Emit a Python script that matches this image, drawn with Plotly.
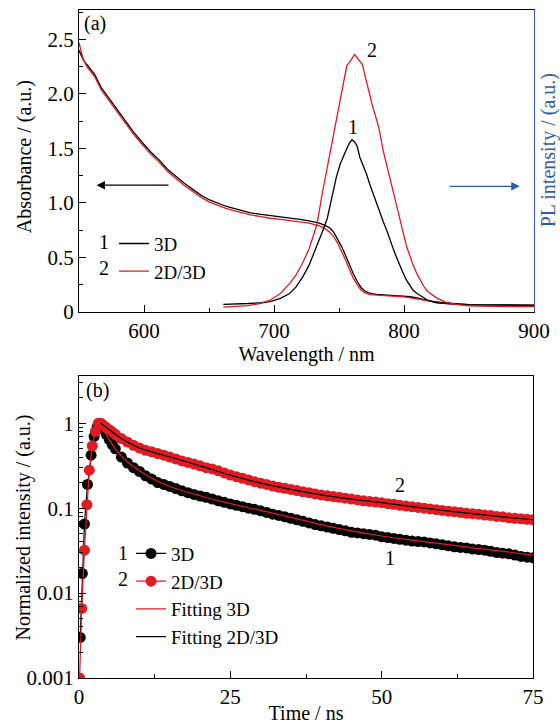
import plotly.graph_objects as go

# ---------------- Panel (a) data ----------------
abs_wl = [550, 553, 556, 559, 562, 567, 573, 580, 586, 592, 599, 605, 612, 618, 625, 631, 638, 644, 650,
          656, 663, 669, 676, 682, 690, 697, 705, 712, 720, 727, 735, 740, 743, 746, 749, 752, 755, 758,
          761, 764, 767, 770, 774, 779, 785, 790, 795, 800, 805, 810, 815, 820, 830, 840, 850, 860, 870,
          880, 890, 900]
abs_3d = [2.40, 2.32, 2.27, 2.22, 2.18, 2.06, 1.96, 1.85, 1.75, 1.65, 1.55, 1.47, 1.39, 1.31, 1.24, 1.18,
          1.12, 1.07, 1.03, 1.00, 0.97, 0.95, 0.93, 0.91, 0.895, 0.885, 0.87, 0.86, 0.85, 0.835, 0.815,
          0.79, 0.77, 0.73, 0.67, 0.60, 0.52, 0.43, 0.35, 0.28, 0.225, 0.19, 0.17, 0.162, 0.158, 0.155,
          0.152, 0.148, 0.14, 0.13, 0.115, 0.10, 0.085, 0.075, 0.068, 0.064, 0.062, 0.061, 0.06, 0.06]
abs_2d3d = [2.47, 2.33, 2.25, 2.20, 2.16, 2.04, 1.94, 1.83, 1.73, 1.63, 1.53, 1.45, 1.37, 1.29, 1.22, 1.16,
            1.10, 1.05, 1.01, 0.98, 0.95, 0.93, 0.91, 0.89, 0.875, 0.86, 0.85, 0.84, 0.83, 0.815, 0.79,
            0.76, 0.73, 0.69, 0.63, 0.56, 0.48, 0.39, 0.31, 0.25, 0.20, 0.175, 0.16, 0.155, 0.152, 0.148,
            0.143, 0.138, 0.13, 0.12, 0.108, 0.095, 0.08, 0.07, 0.063, 0.058, 0.055, 0.054, 0.053, 0.053]

pl_wl = [661, 670, 680, 690, 697, 705, 712, 717, 722, 727, 733, 737, 741, 745, 748, 751, 753, 756, 758,
         760, 762, 764, 766, 768, 771, 774, 776, 779, 781, 784, 787, 790, 792, 795, 797, 800, 802, 805,
         807, 810, 815, 818, 825, 832, 840, 850, 860, 870, 880, 890, 900]
pl_3d = [0.07, 0.072, 0.078, 0.085, 0.095, 0.125, 0.17, 0.23, 0.32, 0.43, 0.60, 0.73, 0.86, 1.07, 1.24,
         1.36, 1.42, 1.50, 1.55, 1.58, 1.56, 1.52, 1.42, 1.36, 1.27, 1.16, 1.09, 1.00, 0.93, 0.83, 0.74,
         0.63, 0.57, 0.48, 0.42, 0.34, 0.29, 0.24, 0.20, 0.17, 0.13, 0.11, 0.085, 0.078, 0.073, 0.068,
         0.066, 0.065, 0.064, 0.064, 0.064]
pl_2d3d = [0.045, 0.048, 0.058, 0.08, 0.11, 0.17, 0.26, 0.34, 0.45, 0.58, 0.80, 1.08, 1.33, 1.58, 1.78,
           1.97, 2.10, 2.26, 2.29, 2.33, 2.36, 2.33, 2.30, 2.27, 2.12, 1.97, 1.88, 1.76, 1.67, 1.48, 1.33,
           1.18, 1.08, 0.93, 0.85, 0.68, 0.60, 0.50, 0.43, 0.35, 0.24, 0.19, 0.13, 0.09, 0.07, 0.057,
           0.053, 0.051, 0.05, 0.05, 0.05]

# ---------------- Panel (b) data ----------------
t_3d = [0.2, 0.55, 0.9, 1.4, 2.0, 2.5, 3.0, 3.5, 4.0, 4.5, 5, 5.5, 6, 7, 8, 9, 10, 11, 12, 13, 14, 15, 16,
        17, 18, 19, 20, 21, 22, 23, 24, 25, 26, 27, 28, 29, 30, 31, 32, 33, 34, 35, 36, 37, 38, 39, 40,
        41, 42, 43, 44, 45, 46, 47, 48, 49, 50, 51, 52, 53, 54, 55, 56, 57, 58, 59, 60, 61, 62, 63, 64,
        65, 66, 67, 68, 69, 70, 71, 72, 73, 74, 75]
trpl_3d = [0.003, 0.017, 0.065, 0.19, 0.42, 0.70, 0.90, 0.97, 0.85, 0.74, 0.64, 0.56, 0.50, 0.40, 0.34,
           0.30, 0.27, 0.24, 0.22, 0.20, 0.19, 0.18, 0.17, 0.16, 0.152, 0.145, 0.139, 0.134, 0.128,
           0.122, 0.117, 0.112, 0.108, 0.104, 0.100, 0.097, 0.093, 0.089, 0.085, 0.082, 0.079, 0.076,
           0.073, 0.070, 0.067, 0.064, 0.062, 0.060, 0.058, 0.056, 0.054, 0.052, 0.051, 0.050, 0.049,
           0.048, 0.046, 0.045, 0.044, 0.043, 0.042, 0.041, 0.0405, 0.040, 0.039, 0.038, 0.037, 0.036,
           0.035, 0.0345, 0.034, 0.033, 0.0325, 0.032, 0.031, 0.030, 0.0295, 0.029, 0.028, 0.027,
           0.0265, 0.026]
t_2d3d = [0.1, 0.45, 0.9, 1.3, 1.7, 2.2, 2.7, 3.2, 3.6, 4.0, 4.5, 5, 5.5, 6, 7, 8, 9, 10, 11, 12, 13, 14,
          15, 16, 17, 18, 19, 20, 21, 22, 23, 24, 25, 26, 27, 28, 29, 30, 31, 32, 33, 34, 35, 36, 37, 38,
          39, 40, 41, 42, 43, 44, 45, 46, 47, 48, 49, 50, 51, 52, 53, 54, 55, 56, 57, 58, 59, 60, 61, 62,
          63, 64, 65, 66, 67, 68, 69, 70, 71, 72, 73, 74, 75]
trpl_2d3d = [0.001, 0.0066, 0.032, 0.11, 0.28, 0.54, 0.80, 1.0, 1.0, 0.95, 0.89, 0.84, 0.79, 0.74, 0.66,
             0.60, 0.55, 0.51, 0.48, 0.46, 0.44, 0.42, 0.40, 0.38, 0.36, 0.345, 0.33, 0.315, 0.30, 0.29,
             0.275, 0.26, 0.245, 0.235, 0.225, 0.215, 0.205, 0.197, 0.19, 0.182, 0.176, 0.171, 0.166,
             0.161, 0.156, 0.152, 0.147, 0.143, 0.14, 0.137, 0.134, 0.131, 0.128, 0.125, 0.122, 0.12,
             0.118, 0.116, 0.113, 0.111, 0.108, 0.106, 0.104, 0.102, 0.10, 0.098, 0.096, 0.094, 0.092,
             0.091, 0.089, 0.087, 0.086, 0.085, 0.083, 0.082, 0.080, 0.079, 0.077, 0.076, 0.075, 0.074,
             0.073]

fit_t = [3.5, 4, 5, 6, 7, 8, 10, 12, 15, 20, 25, 30, 35, 40, 45, 50, 55, 60, 65, 70, 75]
fit_3d = [0.95, 0.85, 0.64, 0.50, 0.41, 0.35, 0.275, 0.225, 0.18, 0.14, 0.113, 0.094, 0.078, 0.064,
          0.054, 0.047, 0.042, 0.038, 0.034, 0.031, 0.028]
fit_2d3d = [1.0, 0.95, 0.84, 0.74, 0.66, 0.60, 0.51, 0.46, 0.40, 0.315, 0.245, 0.197, 0.166, 0.143,
            0.128, 0.116, 0.104, 0.094, 0.086, 0.079, 0.073]

BLACK = "#000000"
RED = "#e01b22"
BLUE = "#2c5ba8"
FONT = "Liberation Serif"

fig = go.Figure()

# Panel (a)
fig.add_trace(go.Scatter(x=abs_wl, y=abs_3d, mode="lines", name="3D", line=dict(color=BLACK, width=1.3),
                         xaxis="x", yaxis="y", legend="legend", legendgroup="a1"))
fig.add_trace(go.Scatter(x=abs_wl, y=abs_2d3d, mode="lines", name="2D/3D", line=dict(color=RED, width=1.3),
                         xaxis="x", yaxis="y", legend="legend", legendgroup="a2"))
fig.add_trace(go.Scatter(x=pl_wl, y=pl_3d, mode="lines", name="3D PL", line=dict(color=BLACK, width=1.3),
                         xaxis="x", yaxis="y2", showlegend=False))
fig.add_trace(go.Scatter(x=pl_wl, y=pl_2d3d, mode="lines", name="2D/3D PL", line=dict(color=RED, width=1.3),
                         xaxis="x", yaxis="y2", showlegend=False))

# Panel (b)
fig.add_trace(go.Scatter(x=t_3d, y=trpl_3d, mode="lines+markers", name="3D",
                         line=dict(color=BLACK, width=1.2), marker=dict(color=BLACK, size=11),
                         xaxis="x2", yaxis="y3", legend="legend2", legendgroup="b1"))
fig.add_trace(go.Scatter(x=t_2d3d, y=trpl_2d3d, mode="lines+markers", name="2D/3D",
                         line=dict(color=RED, width=1.2), marker=dict(color=RED, size=11),
                         xaxis="x2", yaxis="y3", legend="legend2", legendgroup="b2"))
fig.add_trace(go.Scatter(x=fit_t, y=fit_3d, mode="lines", name="Fitting 3D", line=dict(color=RED, width=1.2, shape="spline"),
                         xaxis="x2", yaxis="y3", legend="legend2", legendgroup="b3"))
fig.add_trace(go.Scatter(x=fit_t, y=fit_2d3d, mode="lines", name="Fitting 2D/3D", line=dict(color=BLACK, width=1.2, shape="spline"),
                         xaxis="x2", yaxis="y3", legend="legend2", legendgroup="b4"))

axis_common = dict(showline=True, linecolor="black", linewidth=1.2, ticks="inside", ticklen=7,
                   tickwidth=1.2, tickcolor="black", showgrid=False, zeroline=False, automargin=False,
                   tickfont=dict(family=FONT, size=21, color="black"))

log_minor = [m * 10.0 ** e for e in (-3, -2, -1) for m in range(2, 10)] + [2, 3]

fig.update_layout(
    width=560, height=724,
    margin=dict(l=79, r=26, t=10, b=46),
    paper_bgcolor="white", plot_bgcolor="white",
    font=dict(family=FONT, size=19, color="black"),
    xaxis=dict(axis_common, domain=[0, 1], anchor="y", range=[550, 900],
               tickvals=[600, 700, 800, 900], mirror=True,
               minor=dict(tickvals=[650, 750, 850], ticks="inside", ticklen=4, tickcolor="black"),
               title=dict(text="Wavelength / nm", standoff=0, font=dict(size=20))),
    yaxis=dict(axis_common, domain=[0.5479, 1], anchor="x", range=[0, 2.77],
               tickvals=[0, 0.5, 1.0, 1.5, 2.0, 2.5], ticktext=["0", "0.5", "1.0", "1.5", "2.0", "2.5"],
               minor=dict(tickvals=[0.25, 0.75, 1.25, 1.75, 2.25, 2.75], ticks="inside", ticklen=4, tickcolor="black")),
    yaxis2=dict(overlaying="y", side="right", anchor="x", range=[0, 2.77], showline=True,
                linecolor=BLUE, linewidth=1.2, showticklabels=False, ticks="", showgrid=False,
                zeroline=False, automargin=False),
    xaxis2=dict(axis_common, domain=[0, 0.998], anchor="y3", range=[0, 75],
                tickvals=[0, 25, 50, 75], mirror=True,
                minor=dict(tickvals=[12.5, 37.5, 62.5], ticks="inside", ticklen=4, tickcolor="black"),
                title=dict(text="Time / ns", standoff=0, font=dict(size=20))),
    yaxis3=dict(axis_common, domain=[0, 0.4521], anchor="x2", type="log", range=[-3, 0.556],
                tickvals=[0.001, 0.01, 0.1, 1], ticktext=["0.001", "0.01", "0.1", "1"], mirror=True,
                minor=dict(tickvals=log_minor, ticks="inside", ticklen=4, tickcolor="black")),
    legend=dict(x=0.0769, y=0.6787, xanchor="left", yanchor="top", bgcolor="rgba(0,0,0,0)",
                font=dict(family=FONT, size=19), tracegroupgap=0),
    legend2=dict(x=0.1143, y=0.2147, xanchor="left", yanchor="top", bgcolor="rgba(0,0,0,0)",
                 font=dict(family=FONT, size=19), tracegroupgap=0),
    showlegend=True,
)

ann = []
# axis titles for the y axes
ann.append(dict(text="Absorbance / (a.u.)", xref="paper", yref="paper", x=-0.118, y=0.78,
                xanchor="center", yanchor="middle", textangle=-90, showarrow=False, font=dict(size=20)))
ann.append(dict(text="PL intensity / (a.u.)", xref="paper", yref="paper", x=1.0308, y=0.79,
                xanchor="center", yanchor="middle", textangle=-90, showarrow=False,
                font=dict(size=20, color=BLUE)))
ann.append(dict(text="Normalized intensity / (a.u.)", xref="paper", yref="paper", x=-0.122, y=0.226,
                xanchor="center", yanchor="middle", textangle=-90, showarrow=False, font=dict(size=20)))
# panel labels
ann.append(dict(text="(a)", x=552, y=2.65, xref="x", yref="y", xanchor="left", showarrow=False, font=dict(size=20)))
ann.append(dict(text="(b)", x=0.8, y=0.38, xref="x2", yref="y3", xanchor="left", showarrow=False, font=dict(size=20)))
# curve labels
ann.append(dict(text="2", xref="x", yref="y", x=775, y=2.40, showarrow=False, font=dict(size=20)))
ann.append(dict(text="1", xref="x", yref="y", x=761, y=1.70, showarrow=False, font=dict(size=20)))
ann.append(dict(text="2", xref="x2", yref="y3", x=53, y=-0.73, showarrow=False, font=dict(size=20)))
ann.append(dict(text="1", xref="x2", yref="y3", x=51.3, y=-1.585, showarrow=False, font=dict(size=20)))
# legend numbers
ann.append(dict(text="1", xref="x", yref="y", x=569.5, y=0.64, showarrow=False, font=dict(size=20)))
ann.append(dict(text="2", xref="x", yref="y", x=569.5, y=0.40, showarrow=False, font=dict(size=20)))
ann.append(dict(text="1", xref="x2", yref="y3", x=7.2, y=-1.53, showarrow=False, font=dict(size=20)))
ann.append(dict(text="2", xref="x2", yref="y3", x=7.2, y=-1.84, showarrow=False, font=dict(size=20)))
# arrows
ann.append(dict(x=563.5, y=1.163, ax=620, ay=1.163, xref="x", yref="y", axref="x", ayref="y", text="",
                showarrow=True, arrowhead=2, arrowsize=1.3, arrowwidth=1.3, arrowcolor=BLACK))
ann.append(dict(x=889, y=1.153, ax=834, ay=1.153, xref="x", yref="y", axref="x", ayref="y", text="",
                showarrow=True, arrowhead=2, arrowsize=1.3, arrowwidth=1.3, arrowcolor=BLUE))
fig.update_layout(annotations=ann)

fig.write_html("out.html")
